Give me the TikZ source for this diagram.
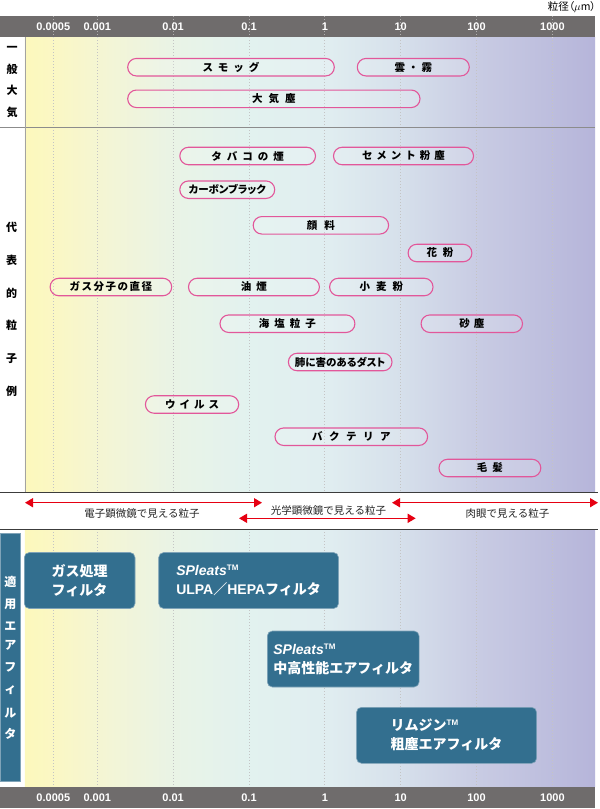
\documentclass[tikz,border=0pt]{standalone}
\usepackage{fontspec}
\setmainfont{Noto Sans CJK JP}
\newfontfamily\jpp{Noto Sans CJK JP}[RawFeature=+palt]
\newfontfamily\lat{Liberation Sans}
\usetikzlibrary{arrows.meta}
\definecolor{hdr}{HTML}{6F6C6C}
\definecolor{pinkc}{HTML}{E2579A}
\definecolor{fblue}{HTML}{336F8F}
\definecolor{fedge}{HTML}{7FA3B8}
\definecolor{redc}{HTML}{E60012}
\definecolor{dotc}{HTML}{C4C4C4}
\definecolor{sepdark}{HTML}{3C3C3C}
\definecolor{sepgray}{HTML}{8C8C8C}
\definecolor{g0}{HTML}{FCF8BC}
\definecolor{g1}{HTML}{FAF7C6}
\definecolor{g2}{HTML}{F3F5D6}
\definecolor{g3}{HTML}{E9F3E6}
\definecolor{g4}{HTML}{E2F2EF}
\definecolor{g5}{HTML}{E0EDF0}
\definecolor{g6}{HTML}{D6E0EB}
\definecolor{g7}{HTML}{C8CBE3}
\definecolor{g8}{HTML}{B6B5DA}
\newcommand\gp{\hspace{5pt}}
\newcommand\tmark{\raisebox{5pt}{\lat\fontsize{8}{8}\selectfont\bfseries TM}}
\begin{document}
\begin{tikzpicture}[x=1pt,y=-1pt,
  pill/.style={draw=pinkc, line width=1.1pt, rounded corners=8.7pt, fill=white, fill opacity=0.15, text opacity=1, minimum height=17.5pt, inner sep=0pt, font=\fontsize{10.5}{12}\selectfont\bfseries},
  fbox/.style={fill=fblue, draw=fedge, line width=0.6pt, rounded corners=5pt, minimum height=56pt, inner sep=0pt, text=white, align=left, font=\fontsize{14}{19}\selectfont\bfseries},
  ticklab/.style={text=white, inner sep=0pt, font=\lat\fontsize{11}{12}\selectfont\bfseries},
  sidelab/.style={inner sep=0pt, font=\fontsize{11}{12}\selectfont\bfseries},
  arr/.style={draw=redc, line width=1.4pt, {Triangle[length=8pt,width=9pt]}-{Triangle[length=8pt,width=9pt]}},
  gridln/.style={draw=dotc, line width=0.9pt, dash pattern=on 1pt off 2pt},
  alab/.style={font=\fontsize{10.5}{12}\selectfont, text=black!85, inner sep=0pt}
]
\useasboundingbox (0,0) rectangle (600,809);
\fill[white] (0,0) rectangle (600,809);
% background gradient
\foreach \xa/\xb/\ca/\cb in {25/60/g0/g1, 60/110/g1/g2, 110/175/g2/g3, 175/250/g3/g4, 250/330/g4/g5, 330/400/g5/g6, 400/480/g6/g7, 480/595/g7/g8} {
  \shade[left color=\ca, right color=\cb] (\xa-0.2,37.3) rectangle (\xb+0.2,492.7);
  \shade[left color=\ca, right color=\cb] (\xa-0.2,529.3) rectangle (\xb+0.2,786.7);
}
% dotted grid
\foreach \xx in {53.3,97.3,173.15,249,324.85,400.7,476.55,552.4} {
  \draw[gridln] (\xx,37.3) -- (\xx,492.7);
  \draw[gridln] (\xx,529.3) -- (\xx,786.7);
}
% headers
\fill[hdr] (0,16) rectangle (595,37.3);
\fill[hdr] (0,786.7) rectangle (595,808.3);
\foreach \xx in {53.3,97.3,173.15,249,324.85,400.7,476.55,552.4} {
  \draw[draw=white, opacity=0.45, line width=0.9pt, dash pattern=on 1pt off 2pt] (\xx,16) -- (\xx,37.3);
}
\foreach \xx/\t [count=\i] in {53.3/0.0005,97.3/0.001,173.15/0.01,249/0.1,324.85/1,400.7/10,476.55/100,552.4/1000} {
  \node[ticklab] (ht\i) at (\xx,26.6) {\t};
  \node[ticklab] (bt\i) at (\xx,798.2) {\t};
}
\node[anchor=east, inner sep=0pt, font=\jpp\fontsize{10.5}{12}\selectfont] (unit) at (596,7.5) {粒径（$\mu$m）};
% separators
\draw[sepgray, line width=0.9pt] (0,127.5) -- (595,127.5);
\draw[sepgray!80, line width=0.9pt] (25,37.3) -- (25,492.7);
\draw[sepdark, line width=1.3pt] (0,492.7) -- (598,492.7);
\draw[sepdark, line width=1.3pt] (0,529.3) -- (598,529.3);
% side labels
\foreach \c/\yy [count=\i] in {一/49,般/69.5,大/90.5,気/112} {
  \node[sidelab] (ga\i) at (12,\yy) {\c};
}
\foreach \c/\yy [count=\i] in {代/227.3,表/260.5,的/293.3,粒/325.8,子/358.5,例/391.5} {
  \node[sidelab] (rp\i) at (11.5,\yy) {\c};
}
% pills
\node[pill, minimum width=206.6pt] (smog) at (231,67.2) {ス\gp モ\gp ッ\gp グ};
\node[pill, minimum width=112pt] (kumo) at (413.3,67.2) {雲\hspace{3pt}・\hspace{3pt}霧};
\node[pill, minimum width=292.3pt] (taiki) at (273.85,98.8) {大\hspace{6pt}気\hspace{6pt}塵};
\node[pill, minimum width=135.7pt] (tabako) at (247.65,156) {タ\gp バ\gp コ\gp の\gp 煙};
\node[pill, minimum width=140pt] (cement) at (403.5,156) {セ\hspace{4pt}メ\hspace{4pt}ン\hspace{4pt}ト\hspace{4pt}粉\hspace{4pt}塵};
\node[pill, minimum width=94.9pt] (carbon) at (227.25,189.7) {\jpp カーボンブラック};
\node[pill, minimum width=135.4pt] (ganryo) at (320.9,225.3) {顔\hspace{7pt}料};
\node[pill, minimum width=63.8pt] (kafun) at (440,253) {花\hspace{6pt}粉};
\node[pill, minimum width=121.6pt] (gasm) at (110.9,287) {ガ\hspace{1.5pt}ス\hspace{1.5pt}分\hspace{1.5pt}子\hspace{1.5pt}の\hspace{1.5pt}直\hspace{1.5pt}径};
\node[pill, minimum width=130.9pt] (yuen) at (253.95,287) {油\gp 煙};
\node[pill, minimum width=103.4pt] (komugi) at (381.3,287) {小\hspace{6pt}麦\hspace{6pt}粉};
\node[pill, minimum width=134.9pt] (kaien) at (287.45,323.7) {海\gp 塩\gp 粒\gp 子};
\node[pill, minimum width=101.4pt] (sajin) at (471.8,323.7) {砂\hspace{4pt}塵};
\node[pill, minimum width=103.6pt] (hai) at (340.2,362) {\jpp 肺に害のあるダスト};
\node[pill, minimum width=93.3pt] (virus) at (192.05,404.5) {ウ\hspace{4pt}イ\hspace{4pt}ル\hspace{4pt}ス};
\node[pill, minimum width=152.6pt] (bact) at (351.3,436.7) {バ\hspace{6.5pt}ク\hspace{6.5pt}テ\hspace{6.5pt}リ\hspace{6.5pt}ア};
\node[pill, minimum width=101.8pt] (mohatsu) at (489.9,468) {毛\gp 髪};
% microscope arrows
\coordinate (a1l) at (25,502.7);
\coordinate (a1r) at (262,502.7);
\coordinate (a2l) at (239,518.3);
\coordinate (a2r) at (415.7,518.3);
\coordinate (a3l) at (392,502.7);
\coordinate (a3r) at (598,502.7);
\draw[arr] (a1l) -- (a1r);
\draw[arr] (a2l) -- (a2r);
\draw[arr] (a3l) -- (a3r);
\node[alab] (l1) at (142,513.3) {電子顕微鏡で見える粒子};
\node[alab] (l2) at (328.5,510.7) {光学顕微鏡で見える粒子};
\node[alab] (l3) at (507.5,513.3) {肉眼で見える粒子};
% side box
\node[fill=fblue, draw=fedge, line width=0.6pt, minimum width=20.7pt, minimum height=248.4pt, inner sep=0pt] (side) at (10.35,657.5) {};
\foreach \c/\yy [count=\i] in {適/582,用/604.5,エ/626.5,ア/645,フ/667,ィ/690,ル/713,タ/733.5} {
  \node[inner sep=0pt, text=white, font=\fontsize{12}{12}\selectfont\bfseries] (sd\i) at (10.35,\yy) {\c};
}
% filter boxes
\node[fbox, minimum width=110.7pt] (f1) at (79.65,580.5) {ガス処理\\フィルタ};
\node[fbox, minimum width=179.8pt] (f2) at (248.6,580.5) {{\lat\itshape SPleats}\tmark\\{\lat ULPA}／{\lat HEPA}フィルタ};
\node[fbox, minimum width=151.8pt] (f3) at (343.2,659) {{\lat\itshape SPleats}\tmark\\中高性能エアフィルタ};
\node[fbox, minimum width=180.1pt] (f4) at (446.55,735.3) {リムジン\tmark\\粗塵エアフィルタ};
\end{tikzpicture}
\end{document}
